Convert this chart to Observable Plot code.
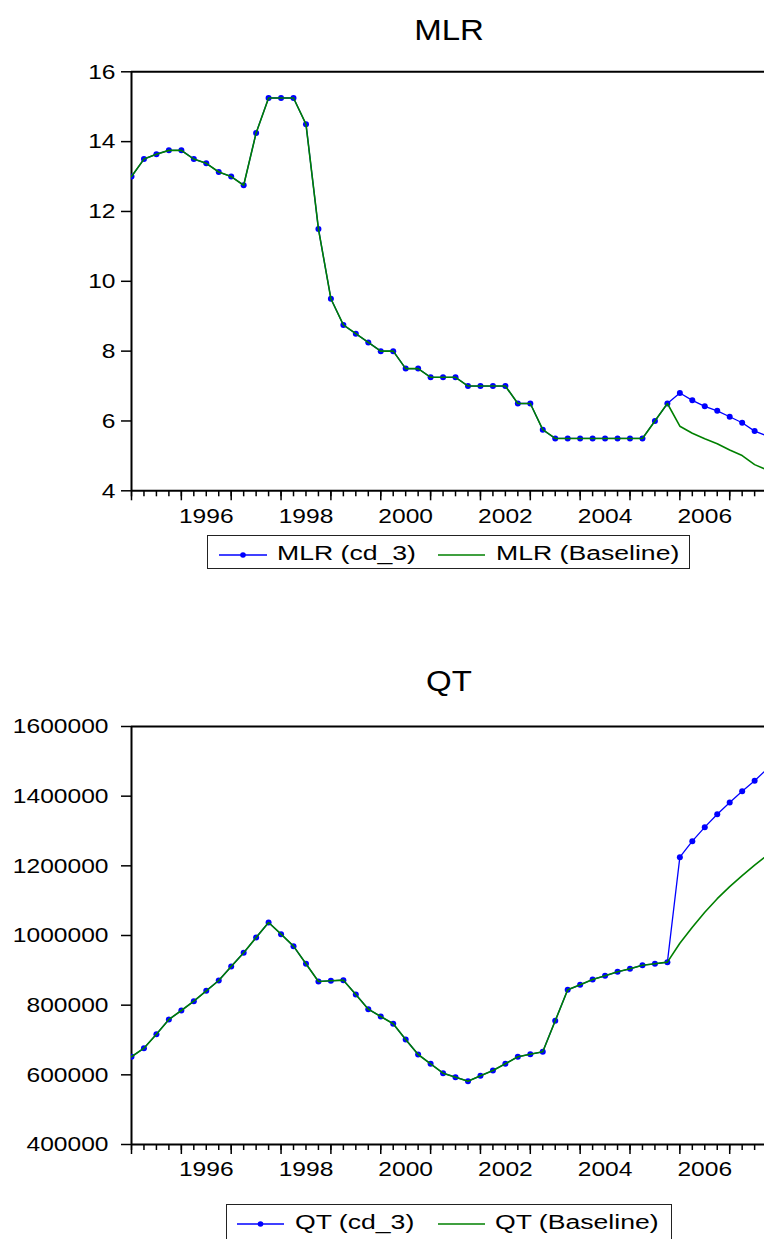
<!DOCTYPE html>
<html>
<head>
<meta charset="utf-8">
<script src="https://cdn.jsdelivr.net/npm/d3@7"></script>
<script src="https://cdn.jsdelivr.net/npm/@observablehq/plot@0.6"></script>
<style>
html, body { margin:0; padding:0; background:#fff; overflow:hidden; }
#page { position:relative; width:764px; height:1239px; overflow:hidden; background:#fff;
  font-family:"Liberation Sans", Arial, Helvetica, sans-serif; color:#000; }
.abs { position:absolute; white-space:nowrap; }
.title { font-size:30px; line-height:30px; transform: translateX(-50%) scaleX(1.1); }
.legbox { border:1.5px solid #222; box-sizing:border-box; background:#fff; }
.legtext { display:inline-block; font-size:20px; line-height:20px; transform-origin:0 50%; transform:scaleX(1.33); }
</style>
</head>
<body>
<div id="page"></div>
<script>
// ---------- data ----------
const quarters = [
  "1995Q1","1995Q2","1995Q3","1995Q4","1996Q1","1996Q2","1996Q3","1996Q4",
  "1997Q1","1997Q2","1997Q3","1997Q4","1998Q1","1998Q2","1998Q3","1998Q4",
  "1999Q1","1999Q2","1999Q3","1999Q4","2000Q1","2000Q2","2000Q3","2000Q4",
  "2001Q1","2001Q2","2001Q3","2001Q4","2002Q1","2002Q2","2002Q3","2002Q4",
  "2003Q1","2003Q2","2003Q3","2003Q4","2004Q1","2004Q2","2004Q3","2004Q4",
  "2005Q1","2005Q2","2005Q3","2005Q4","2006Q1","2006Q2","2006Q3","2006Q4",
  "2007Q1","2007Q2","2007Q3","2007Q4"
];

const mlrCd3 = [
  13.0, 13.5, 13.64, 13.75, 13.75, 13.5, 13.38, 13.13,
  13.0, 12.75, 14.25, 15.25, 15.25, 15.25, 14.5, 11.5,
  9.5, 8.75, 8.5, 8.25, 8.0, 8.0, 7.5, 7.5,
  7.25, 7.25, 7.25, 7.0, 7.0, 7.0, 7.0, 6.5,
  6.5, 5.75, 5.5, 5.5, 5.5, 5.5, 5.5, 5.5,
  5.5, 5.5, 6.0, 6.5, 6.8, 6.59, 6.42, 6.29,
  6.12, 5.95, 5.71, 5.57
];
const mlrBaseline = [
  13.0, 13.5, 13.64, 13.75, 13.75, 13.5, 13.38, 13.13,
  13.0, 12.75, 14.25, 15.25, 15.25, 15.25, 14.5, 11.5,
  9.5, 8.75, 8.5, 8.25, 8.0, 8.0, 7.5, 7.5,
  7.25, 7.25, 7.25, 7.0, 7.0, 7.0, 7.0, 6.5,
  6.5, 5.75, 5.5, 5.5, 5.5, 5.5, 5.5, 5.5,
  5.5, 5.5, 6.0, 6.5, 5.85, 5.65, 5.49, 5.35,
  5.17, 5.01, 4.75, 4.6
];

const qtCd3 = [
  652000, 676500, 716700, 758900, 784700, 811500, 841200, 870800,
  911000, 950300, 994300, 1037300, 1003900, 969400, 918700, 868000,
  869900, 871800, 830700, 788500, 767500, 746500, 701500, 658400,
  631700, 604800, 593300, 581800, 597200, 612500, 631700, 651800,
  659300, 666100, 755100, 844100, 858400, 873700, 884200, 895700,
  904300, 914800, 918700, 923500, 1224900, 1270800, 1311000, 1348300,
  1381800, 1414400, 1444000, 1478000
];
const qtBaseline = [
  652000, 676500, 716700, 758900, 784700, 811500, 841200, 870800,
  911000, 950300, 994300, 1037300, 1003900, 969400, 918700, 868000,
  869900, 871800, 830700, 788500, 767500, 746500, 701500, 658400,
  631700, 604800, 593300, 581800, 597200, 612500, 631700, 651800,
  659300, 666100, 755100, 844100, 858400, 873700, 884200, 895700,
  904300, 914800, 918700, 923500, 977900, 1023800, 1066900, 1105700,
  1140100, 1171700, 1201800, 1230500
];

const yearTicks = [1995, 1996, 1997, 1998, 1999, 2000, 2001, 2002, 2003, 2004, 2005, 2006, 2007];
const labelYears = [1996, 1998, 2000, 2002, 2004, 2006];
const mlrYTicks = [4, 6, 8, 10, 12, 14, 16];
const qtYTicks = [400000, 600000, 800000, 1000000, 1200000, 1400000, 1600000];

const mlrTitle = "MLR";
const qtTitle = "QT";
const mlrLabels = ["MLR (cd_3)", "MLR (Baseline)"];
const qtLabels = ["QT (cd_3)", "QT (Baseline)"];

// ---------- helpers ----------
const toT = q => +q.slice(0, 4) + (+q.slice(5) - 1) / 4;
const quarterT = quarters.map(toT);
const labelTicks = labelYears.map(y => y + 0.5);
const X_MIN = 1995, X_MAX = 2007.698;
const page = document.getElementById("page");

function stretchText(svg, f) {
  svg.querySelectorAll("text").forEach(t => {
    if (!t.textContent) return;
    const w = t.getComputedTextLength();
    if (w > 0) {
      t.setAttribute("textLength", (w * f).toFixed(2));
      t.setAttribute("lengthAdjust", "spacingAndGlyphs");
    }
  });
}

function panel({cd3, base, yDomain, yTicks, top, height, marginTop, marginBottom, yPad}) {
  const data = quarters.map((q, i) => ({t: quarterT[i], cd3: cd3[i], base: base[i]}));
  const svg = Plot.plot({
    width: 764, height, marginLeft: 131, marginRight: 0, marginTop, marginBottom,
    style: {fontFamily: '"Liberation Sans", Arial, sans-serif', fontSize: "21px", color: "#000",
            background: "transparent", overflow: "hidden"},
    x: {domain: [X_MIN, X_MAX], label: null},
    y: {domain: yDomain, label: null},
    marks: [
      Plot.axisY({ticks: yTicks, tickSize: 10, tickPadding: yPad, tickFormat: d => String(d),
                  strokeWidth: 1.5, label: null, fontSize: 21}),
      Plot.axisX({ticks: quarterT, tickSize: 6, tickFormat: () => "", strokeWidth: 1.5, label: null}),
      Plot.axisX({ticks: yearTicks, tickSize: 10, tickFormat: () => "", strokeWidth: 1.5, label: null}),
      Plot.axisX({ticks: labelTicks, tickSize: 0, tickPadding: 17, tickFormat: d => String(Math.floor(d)),
                  label: null, fontSize: 21}),
      Plot.ruleY([yDomain[1]], {stroke: "#000", strokeWidth: 2}),
      Plot.ruleY([yDomain[0]], {stroke: "#000", strokeWidth: 2}),
      Plot.ruleX([X_MIN], {stroke: "#000", strokeWidth: 2}),
      Plot.line(data, {x: "t", y: "cd3", stroke: "#0000ff", strokeWidth: 1.3, clip: true}),
      Plot.dot(data, {x: "t", y: "cd3", r: 3, fill: "#0000ff", clip: true}),
      Plot.line(data, {x: "t", y: "base", stroke: "#008000", strokeWidth: 1.6, clip: true})
    ]
  });
  svg.style.position = "absolute";
  svg.style.left = "0px";
  svg.style.top = top + "px";
  page.appendChild(svg);
  stretchText(svg, 1.17);
}

function title(text, baseline) {
  const d = document.createElement("div");
  d.className = "abs title";
  d.textContent = text;
  d.style.left = "449px";
  d.style.top = (baseline - 25.4) + "px";
  page.appendChild(d);
}

function legend({labels, box, lineY, blue, green, baseline}) {
  const b = document.createElement("div");
  b.className = "abs legbox";
  Object.assign(b.style, {left: box[0] + "px", top: box[1] + "px", width: box[2] + "px", height: box[3] + "px"});
  page.appendChild(b);
  const ns = "http://www.w3.org/2000/svg";
  const sw = document.createElementNS(ns, "svg");
  sw.setAttribute("width", 764); sw.setAttribute("height", 20);
  sw.style.position = "absolute"; sw.style.left = "0px"; sw.style.top = (lineY - 10) + "px";
  const mk = (tag, attrs) => { const e = document.createElementNS(ns, tag); for (const k in attrs) e.setAttribute(k, attrs[k]); sw.appendChild(e); };
  mk("line", {x1: blue[0], x2: blue[1], y1: 10, y2: 10, stroke: "#0000ff", "stroke-width": 1.3});
  mk("circle", {cx: (blue[0] + blue[1]) / 2, cy: 10, r: 2.8, fill: "#0000ff"});
  mk("line", {x1: green[0], x2: green[1], y1: 10, y2: 10, stroke: "#008000", "stroke-width": 1.5});
  page.appendChild(sw);
  [[labels[0], blue[2]], [labels[1], green[2]]].forEach(([txt, x]) => {
    const s = document.createElement("span");
    s.className = "abs legtext";
    s.textContent = txt;
    s.style.left = x + "px";
    s.style.top = (baseline - 16.93) + "px";
    page.appendChild(s);
  });
}

// ---------- MLR ----------
title(mlrTitle, 40);
panel({cd3: mlrCd3, base: mlrBaseline, yDomain: [4, 16], yTicks: mlrYTicks,
       top: 50, height: 480, marginTop: 21.3, marginBottom: 39.7, yPad: 6});
legend({labels: mlrLabels, box: [207, 535, 483, 34], lineY: 555,
        blue: [219, 267, 277], green: [438, 485, 496], baseline: 560});

// ---------- QT ----------
title(qtTitle, 691.7);
panel({cd3: qtCd3, base: qtBaseline, yDomain: [400000, 1600000], yTicks: qtYTicks,
       top: 700, height: 480, marginTop: 26, marginBottom: 36, yPad: 13});
legend({labels: qtLabels, box: [226, 1204, 446, 37], lineY: 1224,
        blue: [237, 284, 295], green: [438, 485, 495], baseline: 1229});
</script>
</body>
</html>
